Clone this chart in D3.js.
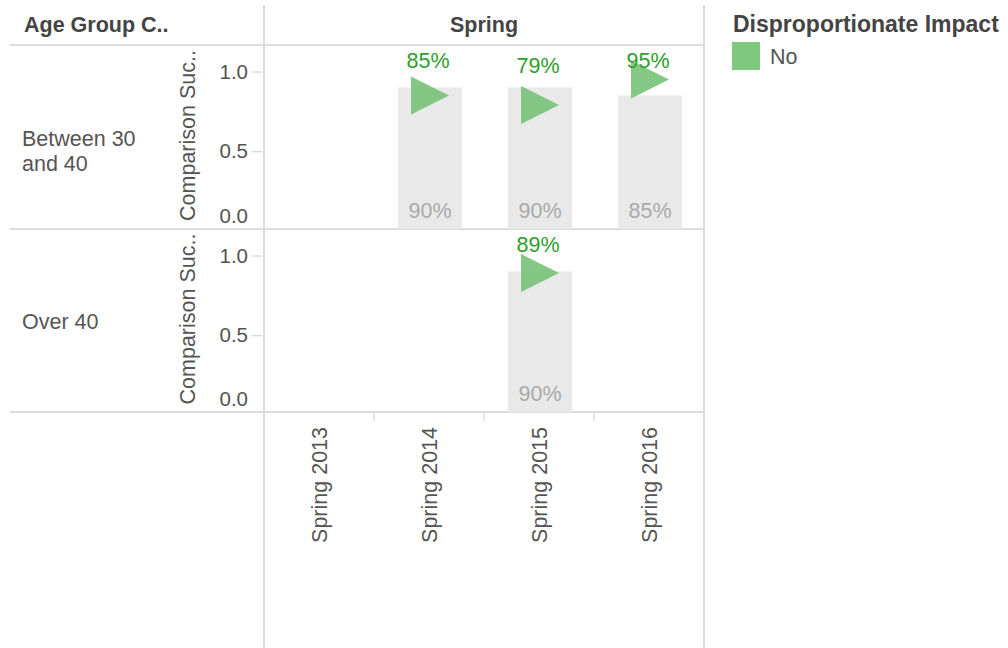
<!DOCTYPE html>
<html>
  <head>
    <script src="https://d3js.org/d3.v7.min.js"></script>
    <meta charset="utf-8">
    <title>Comparison Success by Age Group</title>
    <style>
      body { margin: 0; background: #fff; }
      svg { font-family: "Liberation Sans", Arial, sans-serif; }
      .grid { stroke: #dcdcdc; stroke-width: 2; }
    </style>
  </head>
  <body>
    <script>
      // data
      const terms = ["Spring 2013", "Spring 2014", "Spring 2015", "Spring 2016"];
      const ageGroups = ["Between 30 and 40", "Over 40"];
      const ageLines = [["Between 30", "and 40"], ["Over 40"]];
      const comparison = [
        [null, 0.90, 0.90, 0.85],
        [null, null, 0.90, null]
      ];
      const success = [
        [null, 0.85, 0.79, 0.95],
        [null, null, 0.89, null]
      ];
      const yTicks = [0, 0.5, 1.0];
      const legendItems = ["No"];

      const W = 1008, H = 648;
      const svg = d3.select("body").append("svg")
        .attr("width", W).attr("height", H);

      // grid lines of the table layout
      svg.append("line").attr("class", "grid").attr("x1", 264).attr("x2", 264).attr("y1", 5).attr("y2", H);
      svg.append("line").attr("class", "grid").attr("x1", 704).attr("x2", 704).attr("y1", 5).attr("y2", H);
      [45, 229, 412].forEach(y => {
        svg.append("line").attr("class", "grid").attr("x1", 10).attr("x2", 704).attr("y1", y).attr("y2", y);
      });

      // headers
      svg.append("text").attr("x", 24).attr("y", 32)
        .attr("font-size", 21.5).attr("font-weight", "bold").attr("fill", "#444")
        .text("Age Group C..");
      svg.append("text").attr("x", 484).attr("y", 32).attr("text-anchor", "middle")
        .attr("font-size", 21.5).attr("font-weight", "bold").attr("fill", "#444")
        .text("Spring");

      const x = d3.scaleBand().domain(terms).range([264, 704]);
      const barW = 64;

      const panels = [{top: 46, bottom: 231}, {top: 230, bottom: 415}];

      ageGroups.forEach((g, i) => {
        const p = panels[i];
        const y = d3.scaleLinear().domain([0, 1.16]).range([p.bottom, p.top]);
        const panelBottom = i === 0 ? 229 : 412;
        const gp = svg.append("g");

        // row label (first line at the middle of the row)
        const rl = gp.append("text").attr("x", 22).attr("fill", "#555").attr("font-size", 21.5);
        const mid = (p.top + panelBottom) / 2;
        ageLines[i].forEach((l, k) => {
          rl.append("tspan").attr("x", 22)
            .attr("y", mid + 8 + k * 25)
            .text(l);
        });

        // y axis
        const ax = gp.append("g").attr("transform", "translate(262,0)")
          .call(d3.axisLeft(y).tickValues(yTicks).tickFormat(d3.format(".1f")).tickSize(10).tickPadding(4));
        ax.select(".domain").remove();
        ax.selectAll(".tick line").attr("stroke", "#ccc");
        ax.selectAll(".tick text").attr("font-size", 20.5).attr("fill", "#555")
          .attr("font-family", "Liberation Sans, Arial, sans-serif");
        const zero = ax.selectAll(".tick").filter(d => d === 0);
        zero.select("line").remove();
        zero.select("text")
          .attr("dy", 0).attr("y", 0).attr("transform", `translate(0,${panelBottom - 7 - y(0)})`);

        gp.append("text")
          .attr("transform", `translate(195,${(p.top + panelBottom) / 2 - 2}) rotate(-90)`)
          .attr("text-anchor", "middle").attr("font-size", 21.5).attr("fill", "#555")
          .text("Comparison Suc..");

        // comparison bars
        const bars = terms.map((t, j) => ({t, v: comparison[i][j]})).filter(d => d.v != null);
        gp.selectAll("rect.bar").data(bars).enter().append("rect")
          .attr("class", "bar")
          .attr("x", d => x(d.t) + x.bandwidth() / 2 - barW / 2 + 1)
          .attr("width", barW)
          .attr("y", d => y(d.v))
          .attr("height", d => panelBottom - y(d.v))
          .attr("fill", "#e9e9e9");
        gp.selectAll("text.barlbl").data(bars).enter().append("text")
          .attr("class", "barlbl")
          .attr("x", d => x(d.t) + x.bandwidth() / 2 + 1)
          .attr("y", panelBottom - 11)
          .attr("text-anchor", "middle").attr("font-size", 21.5).attr("fill", "#aaa")
          .text(d => d3.format(".0%")(d.v));

        // success triangles
        const pts = terms.map((t, j) => ({t, v: success[i][j]})).filter(d => d.v != null);
        gp.selectAll("path.tri").data(pts).enter().append("path")
          .attr("class", "tri")
          .attr("transform", d => `translate(${x(d.t) + x.bandwidth() / 2 + 1},${y(d.v)})`)
          .attr("d", "M-19,-19L19,0L-19,19Z")
          .attr("fill", "#78c278").attr("fill-opacity", 0.9);
        gp.selectAll("text.trilbl").data(pts).enter().append("text")
          .attr("class", "trilbl")
          .attr("x", d => x(d.t) + x.bandwidth() / 2 - 1)
          .attr("y", d => Math.max(y(d.v) - 32, p.top + 22))
          .attr("text-anchor", "middle").attr("font-size", 21.5).attr("fill", "#2ca02c")
          .text(d => d3.format(".0%")(d.v));
      });

      // x axis
      const xa = svg.append("g").attr("transform", "translate(0,412)")
        .call(d3.axisBottom(x).tickSize(0).tickPadding(0));
      xa.select(".domain").remove();
      xa.selectAll(".tick text")
        .attr("font-size", 21.5).attr("fill", "#555")
        .attr("font-family", "Liberation Sans, Arial, sans-serif")
        .attr("text-anchor", "end").attr("dy", 0).attr("y", 0)
        .attr("transform", "translate(8,15) rotate(-90)");
      terms.slice(1).forEach(t => {
        svg.append("line").attr("x1", x(t)).attr("x2", x(t)).attr("y1", 413).attr("y2", 421)
          .attr("stroke", "#ccc").attr("stroke-width", 1);
      });

      // legend
      svg.append("text").attr("x", 733).attr("y", 32)
        .attr("font-size", 23).attr("font-weight", "bold").attr("fill", "#444")
        .text("Disproportionate Impact");
      legendItems.forEach((l, k) => {
        svg.append("rect").attr("x", 732).attr("y", 42 + k * 30).attr("width", 28).attr("height", 28)
          .attr("fill", "#7fc97f");
        svg.append("text").attr("x", 770).attr("y", 64 + k * 30)
          .attr("font-size", 21.5).attr("fill", "#555").text(l);
      });
    </script>
  </body>
</html>
